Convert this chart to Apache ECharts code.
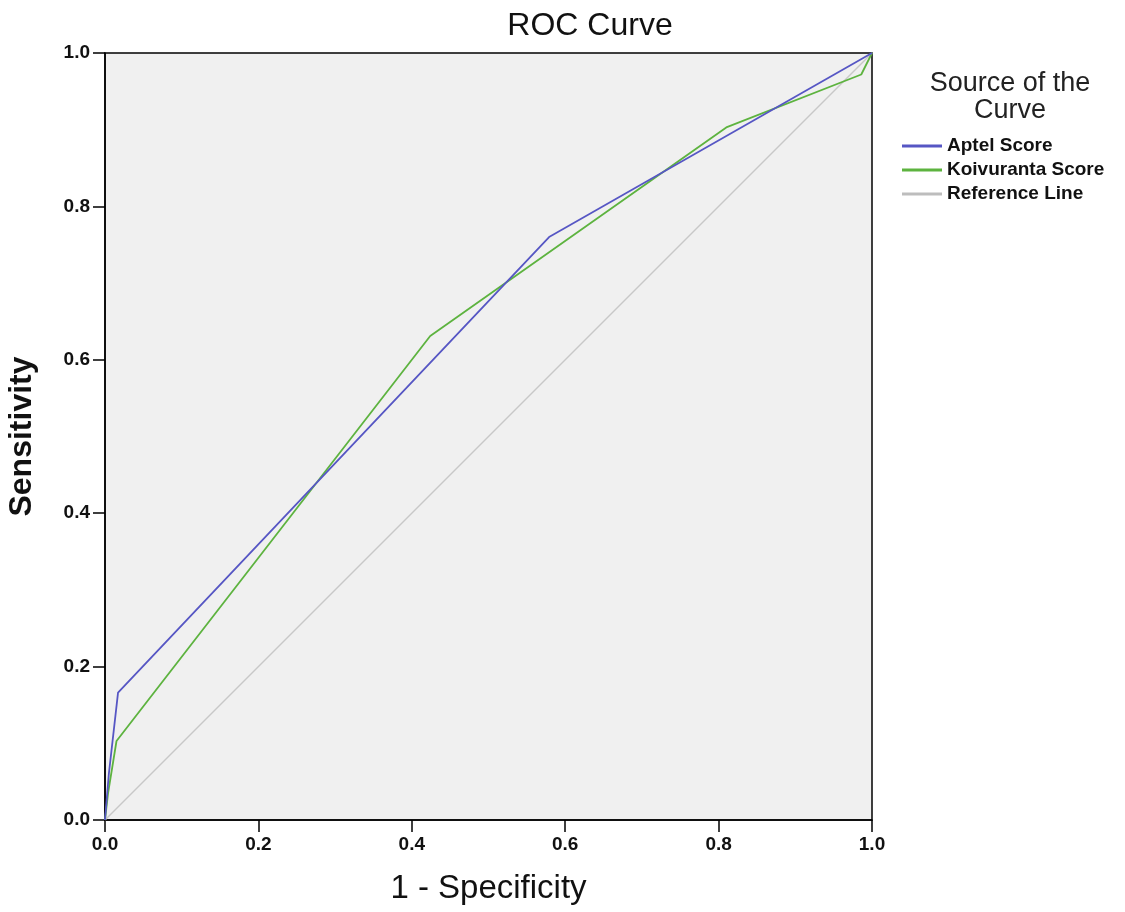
<!DOCTYPE html>
<html>
<head>
<meta charset="utf-8">
<script src="https://cdn.jsdelivr.net/npm/echarts@6/dist/echarts.min.js"></script>
<style>html,body{margin:0;padding:0;background:#fff;}#c{width:1125px;height:912px;}</style>
</head>
<body>
<div id="c"></div>
<script>
var xTicks = [0, 0.2, 0.4, 0.6, 0.8, 1.0];
var aptelX = [0, 0.005, 0.017, 0.579, 1.0];
var aptelY = [0, 0.06, 0.166, 0.760, 1.0];
var koivX = [0, 0.004, 0.015, 0.424, 0.810, 0.986, 1.0];
var koivY = [0, 0.035, 0.103, 0.631, 0.903, 0.972, 1.0];
var refX = [0, 1];
var refY = [0, 1];
var seriesNames = ['Aptel Score', 'Koivuranta Score', 'Reference Line'];

function pairs(xs, ys) { return xs.map(function (x, i) { return [x, ys[i]]; }); }

var chart = echarts.init(document.getElementById('c'));
var font = 'Liberation Sans, Arial, sans-serif';
var axisCommon = {
  type: 'value', min: 0, max: 1, interval: 0.2,
  axisLine: { show: true, lineStyle: { color: '#000', width: 1.5 } },
  axisTick: { show: true, inside: false, length: 12, lineStyle: { color: '#000', width: 1.5 } },
  splitLine: { show: false },
  axisLabel: { color: '#111', fontFamily: font, fontWeight: 'bold', fontSize: 19,
    formatter: function (v) { return v.toFixed(1); } }
};
chart.setOption({
  backgroundColor: '#fff',
  title: { text: 'ROC Curve', left: 585, top: 5, textAlign: 'center',
    textStyle: { fontFamily: font, fontWeight: 'normal', fontSize: 32, color: '#111' } },
  grid: { left: 105, top: 53, width: 767, height: 767, show: true, outerBoundsMode: 'none',
    containLabel: false,
    backgroundColor: '#f0f0f0', borderColor: '#000', borderWidth: 1.5 },
  xAxis: Object.assign({}, axisCommon, {
    name: '1 - Specificity', nameLocation: 'middle', nameGap: 52,
    nameTextStyle: { fontFamily: font, fontSize: 33, color: '#111' },
    axisLabel: Object.assign({}, axisCommon.axisLabel, { margin: 15 })
  }),
  yAxis: Object.assign({}, axisCommon, {
    name: 'Sensitivity', nameLocation: 'middle', nameGap: 67,
    nameTextStyle: { fontFamily: font, fontSize: 32, fontWeight: 'bold', color: '#111' },
    axisLabel: Object.assign({}, axisCommon.axisLabel, { margin: 15 })
  }),
  legend: {
    orient: 'vertical', left: 897, top: 131, icon: 'rect', itemWidth: 40, itemHeight: 3,
    itemGap: 4, data: seriesNames,
    textStyle: { fontFamily: font, fontWeight: 'bold', fontSize: 19, color: '#111', lineHeight: 20 }
  },
  graphic: [{
    type: 'text', x: 1010, y: 70,
    style: { text: 'Source of the\nCurve', fontFamily: font, fontSize: 27, fill: '#222',
      align: 'center', lineHeight: 27 }
  }],
  series: [
    { name: seriesNames[2], type: 'line', data: pairs(refX, refY), symbol: 'none',
      lineStyle: { color: '#c8c8c8', width: 1.5 }, itemStyle: { color: '#bdbdbd' }, z: 1 },
    { name: seriesNames[0], type: 'line', data: pairs(aptelX, aptelY), symbol: 'none',
      lineStyle: { color: '#5656c4', width: 1.8 }, itemStyle: { color: '#5656c4' }, z: 3 },
    { name: seriesNames[1], type: 'line', data: pairs(koivX, koivY), symbol: 'none',
      lineStyle: { color: '#5db33f', width: 1.8 }, itemStyle: { color: '#5db33f' }, z: 2 }
  ]
});
</script>
</body>
</html>
